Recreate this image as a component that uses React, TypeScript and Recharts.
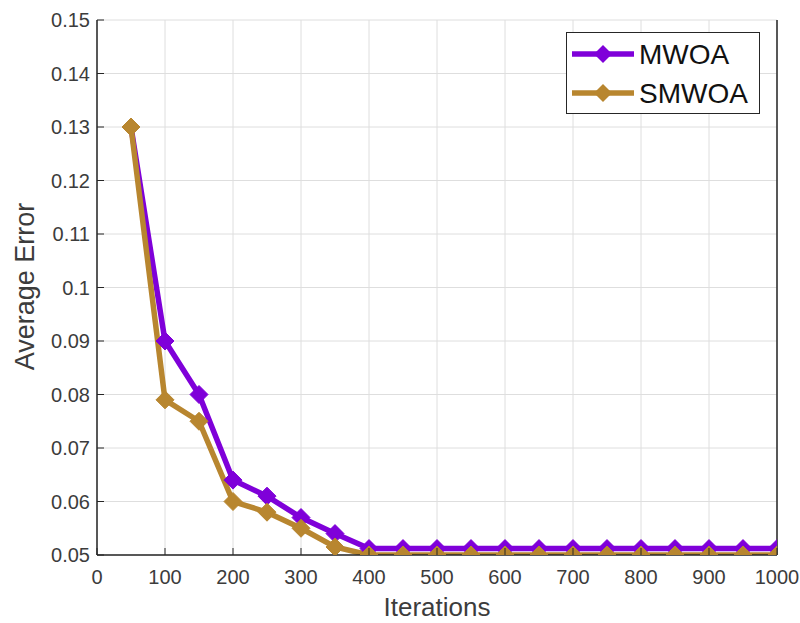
import React from 'react';
import { LineChart, Line, XAxis, YAxis, CartesianGrid } from 'recharts';

const iterations = [50, 100, 150, 200, 250, 300, 350, 400, 450, 500, 550, 600, 650, 700, 750, 800, 850, 900, 950, 1000];
const mwoa = [0.13, 0.09, 0.08, 0.064, 0.061, 0.057, 0.054, 0.0512, 0.0512, 0.0512, 0.0512, 0.0512, 0.0512, 0.0512, 0.0512, 0.0512, 0.0512, 0.0512, 0.0512, 0.0512];
const smwoa = [0.13, 0.079, 0.075, 0.06, 0.058, 0.055, 0.0515, 0.05, 0.05, 0.05, 0.05, 0.05, 0.05, 0.05, 0.05, 0.05, 0.05, 0.05, 0.05, 0.05];
const xTicks = [0, 100, 200, 300, 400, 500, 600, 700, 800, 900, 1000];
const yTicks = [0.05, 0.06, 0.07, 0.08, 0.09, 0.1, 0.11, 0.12, 0.13, 0.14, 0.15];
const seriesNames = ['MWOA', 'SMWOA'];

const data = iterations.map((it, i) => ({ it, MWOA: mwoa[i], SMWOA: smwoa[i] }));

const PURPLE = '#7F00D9';
const GOLD = '#B8862F';
const TEXT = '#3c3c3c';
const FONT = '"Liberation Sans", Arial, Helvetica, sans-serif';

const W = 800;
const H = 623;
const LEFT = 97;
const TOP = 20;
const RIGHT = 23;
const BOTTOM = 68;

const Diamond = (color: string) => (props: any) => {
  const { cx, cy, index } = props;
  if (cx == null || cy == null) return <g key={index} />;
  const r = 9;
  return (
    <polygon
      key={index}
      points={`${cx},${cy - r} ${cx + r},${cy} ${cx},${cy + r} ${cx - r},${cy}`}
      fill={color}
      stroke={color}
      strokeWidth={1}
    />
  );
};

const fmt = (v: number) => String(Number(v.toFixed(2)));

const BottomTick = (props: any) => {
  const { x, payload } = props;
  const axisY = H - BOTTOM;
  return (
    <g>
      <line x1={x} x2={x} y1={axisY} y2={axisY - 7} stroke="#262626" strokeWidth={1} />
      <text x={x} y={axisY + 29} textAnchor="middle" fontSize={20} fill={TEXT} fontFamily={FONT}>
        {payload.value}
      </text>
    </g>
  );
};

const TopTick = (props: any) => {
  const { x } = props;
  return <line x1={x} x2={x} y1={TOP} y2={TOP + 7} stroke="#262626" strokeWidth={1} />;
};

const LeftTick = (props: any) => {
  const { y, payload } = props;
  return (
    <g>
      <line x1={LEFT} x2={LEFT + 7} y1={y} y2={y} stroke="#262626" strokeWidth={1} />
      <text x={LEFT - 7} y={y + 7} textAnchor="end" fontSize={20} fill={TEXT} fontFamily={FONT}>
        {fmt(payload.value)}
      </text>
    </g>
  );
};

const RightTick = (props: any) => {
  const { y } = props;
  const ax = W - RIGHT;
  return <line x1={ax} x2={ax - 7} y1={y} y2={y} stroke="#262626" strokeWidth={1} />;
};

const XTitle = () => {
  return (
    <text x={LEFT + (W - LEFT - RIGHT) / 2} y={H - 7} textAnchor="middle" fontSize={26} fill={TEXT} fontFamily={FONT}>
      Iterations
    </text>
  );
};

const YTitle = () => {
  const cy = TOP + (H - TOP - BOTTOM) / 2;
  return (
    <text x={0} y={0} transform={`translate(34, ${cy - 1}) rotate(-90)`} textAnchor="middle" fontSize={27} fill={TEXT} fontFamily={FONT}>
      Average Error
    </text>
  );
};

const LegendBox = () => {
  const colors = [PURPLE, GOLD];
  return (
    <svg width={195} height={83} style={{ display: 'block' }}>
      <rect x={0.5} y={0.5} width={193} height={81} fill="#ffffff" stroke="#262626" strokeWidth={1} />
      {seriesNames.map((name, i) => {
        const cy = 22 + i * 39;
        const c = colors[i];
        return (
          <g key={name}>
            <line x1={6} x2={68} y1={cy} y2={cy} stroke={c} strokeWidth={5.5} />
            <polygon points={`37,${cy - 9} 46,${cy} 37,${cy + 9} 28,${cy}`} fill={c} />
            <text x={73} y={cy + 10} fontSize={28} fill="#111111" fontFamily={FONT}>
              {name}
            </text>
          </g>
        );
      })}
    </svg>
  );
};

export default function App() {
  return (
    <div style={{ position: 'absolute', left: 0, top: 0, width: W, height: H, background: '#ffffff' }}>
      <LineChart width={W} height={H} data={data} margin={{ top: TOP, right: 0, left: 0, bottom: 0 }}>
        <CartesianGrid xAxisId="b" yAxisId="l" stroke="#dedede" strokeWidth={1} horizontal vertical />
        <XAxis
          xAxisId="b"
          dataKey="it"
          type="number"
          domain={[0, 1000]}
          ticks={xTicks}
          orientation="bottom"
          height={BOTTOM}
          axisLine={{ stroke: '#262626', strokeWidth: 1.5 }}
          tickLine={false}
          tickSize={0}
          tick={<BottomTick />}
          interval={0}
          allowDataOverflow
          label={<XTitle />}
        />
        <XAxis
          xAxisId="t"
          dataKey="it"
          type="number"
          domain={[0, 1000]}
          ticks={xTicks}
          orientation="top"
          height={0}
          axisLine={{ stroke: '#262626', strokeWidth: 1.5 }}
          tickLine={false}
          tickSize={0}
          tick={<TopTick />}
          interval={0}
        />
        <YAxis
          yAxisId="l"
          type="number"
          domain={[0.05, 0.15]}
          ticks={yTicks}
          orientation="left"
          width={LEFT}
          axisLine={{ stroke: '#262626', strokeWidth: 1.5 }}
          tickLine={false}
          tickSize={0}
          tick={<LeftTick />}
          interval={0}
          allowDataOverflow
          label={<YTitle />}
        />
        <YAxis
          yAxisId="r"
          type="number"
          domain={[0.05, 0.15]}
          ticks={yTicks}
          orientation="right"
          width={RIGHT}
          axisLine={{ stroke: '#262626', strokeWidth: 1.5 }}
          tickLine={false}
          tickSize={0}
          tick={<RightTick />}
          interval={0}
        />
        <Line
          xAxisId="b"
          yAxisId="l"
          type="linear"
          dataKey="MWOA"
          stroke={PURPLE}
          strokeWidth={5.5}
          dot={Diamond(PURPLE)}
          activeDot={false}
          isAnimationActive={false}
        />
        <Line
          xAxisId="b"
          yAxisId="l"
          type="linear"
          dataKey="SMWOA"
          stroke={GOLD}
          strokeWidth={5.5}
          dot={Diamond(GOLD)}
          activeDot={false}
          isAnimationActive={false}
        />
      </LineChart>
      <div style={{ position: 'absolute', left: 566, top: 32 }}>
        <LegendBox />
      </div>
    </div>
  );
}
